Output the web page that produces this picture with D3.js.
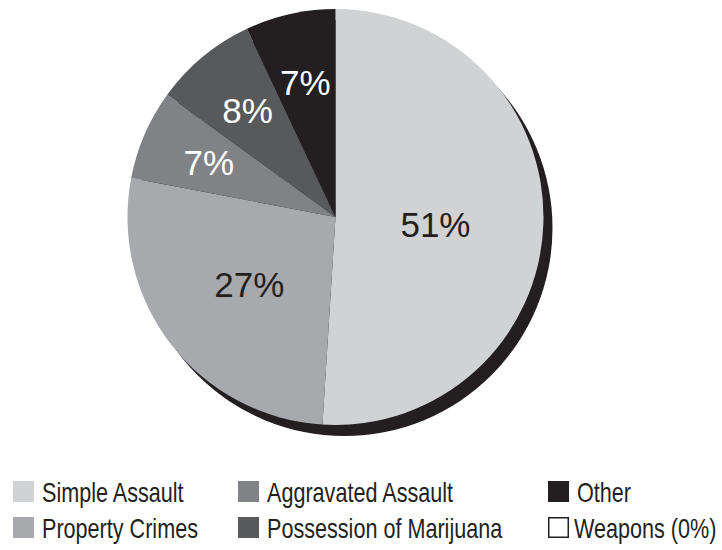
<!DOCTYPE html>
<html><head><meta charset="utf-8">
<script src="https://cdn.jsdelivr.net/npm/d3@7"></script>
<style>body{margin:0;background:#fff}svg{display:block}</style>
</head><body>
<script>
const categories = ["Simple Assault","Property Crimes","Aggravated Assault","Possession of Marijuana","Other","Weapons (0%)"];
const values = [51, 27, 7, 8, 7, 0];
const colors = ["#d1d2d4","#a7a9ac","#808285","#58595b","#231f20","#ffffff"];
const labelColors = ["#231f20","#231f20","#ffffff","#ffffff","#ffffff","#231f20"];
const legendOrder = [0,2,4,1,3,5];

const W = 722, H = 550;
const cx = 335.5, cy = 217, R = 208;
const svg = d3.select("body").append("svg").attr("width", W).attr("height", H);

const data = categories.map((c,i)=>({name:c, value:values[i], i}));
const pie = d3.pie().sort(null).value(d=>d.value);
const arcs = pie(data);
const arc = d3.arc().innerRadius(0).outerRadius(R);

const g = svg.append("g").attr("transform", `translate(${cx},${cy})`);
// drop shadow
g.append("circle").attr("cx", 9).attr("cy", 11).attr("r", R).attr("fill", "#231f20");
g.selectAll("path.slice").data(arcs.filter(a=>a.data.value>0)).join("path")
  .attr("class","slice").attr("d", arc).attr("fill", d=>colors[d.data.i]);

const labelR = d => d.data.value >= 20 ? 104 : 138;
g.selectAll("text.lbl").data(arcs.filter(a=>a.data.value>0)).join("text")
  .attr("class","lbl")
  .attr("transform", d => {
    const rr = labelR(d);
    const c = d3.arc().innerRadius(rr).outerRadius(rr).centroid(d);
    const big = d.data.value >= 20;
    return `translate(${c[0] + (big ? -4 : 0)},${c[1] + (big ? 4 : 0)})`;
  })
  .attr("text-anchor","middle").attr("dy","0.36em")
  .attr("font-family","'Liberation Sans', Arial, sans-serif")
  .attr("font-size", 35)
  .attr("fill", d=>labelColors[d.data.i])
  .text(d => d.data.value + "%");

// legend
const colX = [13, 238, 548];
const rowY = [481, 517];
const leg = svg.append("g");
legendOrder.forEach((idx, k) => {
  const col = k % 3, row = Math.floor(k / 3);
  const x = colX[col], y = rowY[row];
  const item = leg.append("g").attr("transform", `translate(${x},${y})`);
  if (values[idx] > 0) {
    item.append("rect").attr("width", 21).attr("height", 21).attr("fill", colors[idx]);
  } else {
    item.append("rect").attr("x",0.75).attr("y",0.75).attr("width", 19.5).attr("height", 19.5)
      .attr("fill", "#fff").attr("stroke","#231f20").attr("stroke-width",1.5);
  }
  item.append("text")
    .attr("transform", `translate(${values[idx] > 0 ? 29 : 26},20.5) scale(0.8,1)`)
    .attr("font-family","'Liberation Sans', Arial, sans-serif")
    .attr("font-size", 27).attr("fill","#231f20")
    .text(categories[idx]);
});
</script>
</body></html>
